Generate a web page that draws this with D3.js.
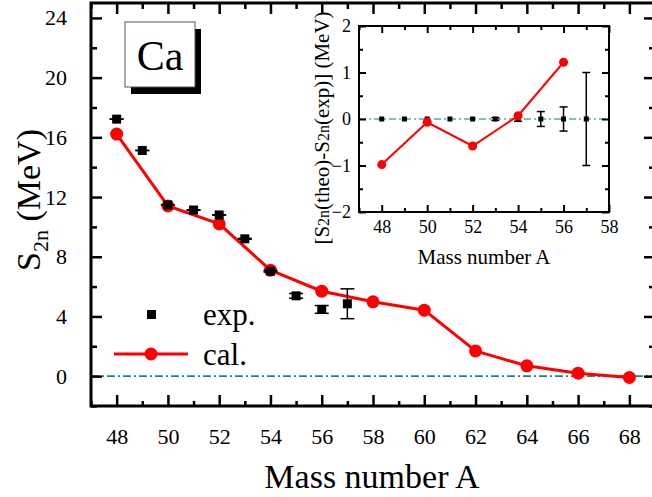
<!DOCTYPE html>
<html>
<head>
<meta charset="utf-8">
<script src="https://cdn.jsdelivr.net/npm/d3@7"></script>
<style>
body { margin: 0; background: #fff; }
svg text { font-family: "Liberation Serif", "Times New Roman", serif; fill: #000; }
</style>
</head>
<body>
<svg id="chart" width="652" height="497"></svg>
<script>
// data
var expA = [48, 49, 50, 51, 52, 53, 54, 55, 56, 57];
var expS2n = [17.22, 15.12, 11.47, 11.13, 10.80, 9.20, 7.03, 5.38, 4.47, 4.85];
var expErr = [0.01, 0.01, 0.01, 0.01, 0.01, 0.03, 0.05, 0.16, 0.26, 1.0];

var calA = [48, 50, 52, 54, 56, 58, 60, 62, 64, 66, 68];
var calS2n = [16.22, 11.40, 10.20, 7.10, 5.69, 4.98, 4.42, 1.69, 0.69, 0.20, -0.09];

// inset: theo - exp
var diffA = [48, 50, 52, 54, 56];
var diffVal = [-0.98, -0.07, -0.58, 0.07, 1.22];

var xTicks = [48, 50, 52, 54, 56, 58, 60, 62, 64, 66, 68];
var yTicks = [0, 4, 8, 12, 16, 20, 24];
var insetXTicks = [48, 50, 52, 54, 56, 58];
var insetYTicks = [-2, -1, 0, 1, 2];

var svg = d3.select("svg");

var x = d3.scaleLinear().domain([47, 69]).range([91, 655]);
var y = d3.scaleLinear().domain([-2, 25]).range([406, 3]);

var main = svg.append("g");

// zero line
main.append("line")
    .attr("x1", x(47)).attr("x2", x(69))
    .attr("y1", y(0)).attr("y2", y(0))
    .attr("stroke", "#1b8585")
    .attr("stroke-width", 1.6)
    .attr("stroke-dasharray", "8,3,2,3");

// ticks, all pointing inward
function ticks(g, axis) {
    g.call(axis);
    g.select(".domain").remove();
    g.selectAll(".tick line").attr("stroke", "#000").attr("stroke-width", 2.5);
}
var minorX = d3.range(47, 70, 1).filter(function(d) { return d % 2 == 1; });
var minorY = d3.range(-2, 25, 2).filter(function(d) { return d % 4 != 0; });

main.append("g").attr("transform", "translate(0," + y(-2) + ")")
    .call(ticks, d3.axisBottom(x).tickValues(xTicks).tickSize(-11).tickPadding(22).tickFormat(d3.format("d")));
main.append("g").attr("transform", "translate(0," + y(-2) + ")")
    .call(ticks, d3.axisBottom(x).tickValues(minorX).tickSize(-5).tickFormat(""));
main.append("g").attr("transform", "translate(0," + y(25) + ")")
    .call(ticks, d3.axisTop(x).tickValues(xTicks).tickSize(-11).tickFormat(""));
main.append("g").attr("transform", "translate(0," + y(25) + ")")
    .call(ticks, d3.axisTop(x).tickValues(minorX).tickSize(-6).tickFormat(""));
main.append("g").attr("transform", "translate(" + x(47) + ",0)")
    .call(ticks, d3.axisLeft(y).tickValues(yTicks).tickSize(-11).tickPadding(24).tickFormat(d3.format("d")));
main.append("g").attr("transform", "translate(" + x(47) + ",0)")
    .call(ticks, d3.axisLeft(y).tickValues(minorY).tickSize(-6).tickFormat(""));
main.append("g").attr("transform", "translate(" + x(69) + ",0)")
    .call(ticks, d3.axisRight(y).tickValues(yTicks).tickSize(-11).tickFormat(""));
main.append("g").attr("transform", "translate(" + x(69) + ",0)")
    .call(ticks, d3.axisRight(y).tickValues(minorY).tickSize(-6).tickFormat(""));

main.selectAll(".tick text")
    .style("font-family", "Liberation Serif")
    .style("font-size", "22px");

// frame
main.append("rect")
    .attr("x", x(47)).attr("y", y(25))
    .attr("width", x(69) - x(47)).attr("height", y(-2) - y(25))
    .attr("fill", "none").attr("stroke", "#000").attr("stroke-width", 3);

// calculated curve
var line = d3.line()
    .x(function(d, i) { return x(calA[i]); })
    .y(function(d) { return y(d); });

main.append("path")
    .datum(calS2n)
    .attr("d", line)
    .attr("fill", "none")
    .attr("stroke", "#ff0000")
    .attr("stroke-width", 3);

main.selectAll("circle.cal")
    .data(calS2n)
    .enter().append("circle")
    .attr("class", "cal")
    .attr("cx", function(d, i) { return x(calA[i]); })
    .attr("cy", function(d) { return y(d); })
    .attr("r", 6.5)
    .attr("fill", "#ff0000");

// experimental points with error bars
var eb = main.selectAll("g.exp")
    .data(expS2n)
    .enter().append("g")
    .attr("class", "exp");
eb.append("line")
    .attr("x1", function(d, i) { return x(expA[i]); })
    .attr("x2", function(d, i) { return x(expA[i]); })
    .attr("y1", function(d, i) { return y(d - expErr[i]); })
    .attr("y2", function(d, i) { return y(d + expErr[i]); })
    .attr("stroke", "#000").attr("stroke-width", 1.5);
[-1, 1].forEach(function(s) {
    eb.append("line")
        .attr("x1", function(d, i) { return x(expA[i]) - 7; })
        .attr("x2", function(d, i) { return x(expA[i]) + 7; })
        .attr("y1", function(d, i) { return y(d + s * expErr[i]); })
        .attr("y2", function(d, i) { return y(d + s * expErr[i]); })
        .attr("stroke", "#000").attr("stroke-width", 1.5);
});
eb.append("rect")
    .attr("x", function(d, i) { return x(expA[i]) - 4.5; })
    .attr("y", function(d) { return y(d) - 4.5; })
    .attr("width", 9).attr("height", 9)
    .attr("fill", "#000");

// legend
main.append("rect")
    .attr("x", 147).attr("y", 310).attr("width", 9).attr("height", 9)
    .attr("fill", "#000");
main.append("text").attr("x", 203).attr("y", 325)
    .style("font-size", "31px").text("exp.");
main.append("line")
    .attr("x1", 114).attr("x2", 188).attr("y1", 354).attr("y2", 354)
    .attr("stroke", "#ff0000").attr("stroke-width", 3);
main.append("circle").attr("cx", 151).attr("cy", 354).attr("r", 6.5)
    .attr("fill", "#ff0000");
main.append("text").attr("x", 203).attr("y", 365)
    .style("font-size", "31px").text("cal.");

// Ca label box with shadow
main.append("rect").attr("x", 131).attr("y", 29).attr("width", 70).attr("height", 65)
    .attr("fill", "#000");
main.append("rect").attr("x", 125).attr("y", 22).attr("width", 70).attr("height", 65)
    .attr("fill", "#fff").attr("stroke", "#555").attr("stroke-width", 1);
main.append("text").attr("x", 160).attr("y", 70)
    .attr("text-anchor", "middle")
    .style("font-size", "42px").text("Ca");

// axis titles
var xt = main.append("text")
    .attr("x", 372).attr("y", 488)
    .attr("text-anchor", "middle")
    .style("font-size", "34px")
    .text("Mass number A");

var yt = main.append("text")
    .attr("transform", "translate(40,200) rotate(-90)")
    .attr("text-anchor", "middle")
    .style("font-size", "34px");
yt.append("tspan").text("S");
yt.append("tspan").attr("dy", 8).style("font-size", "22px").text("2n");
yt.append("tspan").attr("dy", -8).text(" (MeV)");

// ---------- inset ----------
var xi = d3.scaleLinear().domain([47, 58]).range([359, 609]);
var yi = d3.scaleLinear().domain([-2, 2]).range([212, 26]);

var inset = svg.append("g");
inset.append("rect")
    .attr("x", xi(47)).attr("y", yi(2))
    .attr("width", xi(58) - xi(47)).attr("height", yi(-2) - yi(2))
    .attr("fill", "#fff");

inset.append("line")
    .attr("x1", xi(47)).attr("x2", xi(58))
    .attr("y1", yi(0)).attr("y2", yi(0))
    .attr("stroke", "#5aa9a9")
    .attr("stroke-width", 1.5)
    .attr("stroke-dasharray", "7,3,2,3");

var minorXi = d3.range(47, 58, 1).filter(function(d) { return d % 2 == 1; });
var minorYi = [-1.5, -0.5, 0.5, 1.5];
function iticks(g, axis) {
    g.call(axis);
    g.select(".domain").remove();
    g.selectAll(".tick line").attr("stroke", "#000").attr("stroke-width", 2);
}
inset.append("g").attr("transform", "translate(0," + yi(-2) + ")")
    .call(iticks, d3.axisBottom(xi).tickValues(insetXTicks).tickSize(-7).tickPadding(8).tickFormat(d3.format("d")));
inset.append("g").attr("transform", "translate(0," + yi(-2) + ")")
    .call(iticks, d3.axisBottom(xi).tickValues(minorXi).tickSize(-4).tickFormat(""));
inset.append("g").attr("transform", "translate(0," + yi(2) + ")")
    .call(iticks, d3.axisTop(xi).tickValues(insetXTicks).tickSize(-7).tickFormat(""));
inset.append("g").attr("transform", "translate(0," + yi(2) + ")")
    .call(iticks, d3.axisTop(xi).tickValues(minorXi).tickSize(-4).tickFormat(""));
inset.append("g").attr("transform", "translate(" + xi(47) + ",0)")
    .call(iticks, d3.axisLeft(yi).tickValues(insetYTicks).tickSize(-7).tickPadding(8).tickFormat(d3.format("d")));
inset.append("g").attr("transform", "translate(" + xi(47) + ",0)")
    .call(iticks, d3.axisLeft(yi).tickValues(minorYi).tickSize(-4).tickFormat(""));
inset.append("g").attr("transform", "translate(" + xi(58) + ",0)")
    .call(iticks, d3.axisRight(yi).tickValues(insetYTicks).tickSize(-7).tickFormat(""));
inset.append("g").attr("transform", "translate(" + xi(58) + ",0)")
    .call(iticks, d3.axisRight(yi).tickValues(minorYi).tickSize(-4).tickFormat(""));

inset.selectAll(".tick text")
    .style("font-family", "Liberation Serif")
    .style("font-size", "18px");

inset.append("rect")
    .attr("x", xi(47)).attr("y", yi(2))
    .attr("width", xi(58) - xi(47)).attr("height", yi(-2) - yi(2))
    .attr("fill", "none").attr("stroke", "#000").attr("stroke-width", 2);

// inset exp points at zero with their errors
var ieb = inset.selectAll("g.iexp")
    .data(expErr)
    .enter().append("g")
    .attr("class", "iexp");
ieb.append("line")
    .attr("x1", function(d, i) { return xi(expA[i]); })
    .attr("x2", function(d, i) { return xi(expA[i]); })
    .attr("y1", function(d) { return yi(-d); })
    .attr("y2", function(d) { return yi(d); })
    .attr("stroke", "#000").attr("stroke-width", 1.5);
[-1, 1].forEach(function(s) {
    ieb.append("line")
        .attr("x1", function(d, i) { return xi(expA[i]) - 4; })
        .attr("x2", function(d, i) { return xi(expA[i]) + 4; })
        .attr("y1", function(d) { return yi(s * d); })
        .attr("y2", function(d) { return yi(s * d); })
        .attr("stroke", "#000").attr("stroke-width", 1.5)
        .style("opacity", function(d) { return d > 0.02 ? 1 : 0; });
});
ieb.append("rect")
    .attr("x", function(d, i) { return xi(expA[i]) - 2.5; })
    .attr("y", yi(0) - 2.5)
    .attr("width", 5).attr("height", 5)
    .attr("fill", "#000");

var iline = d3.line()
    .x(function(d, i) { return xi(diffA[i]); })
    .y(function(d) { return yi(d); });
inset.append("path")
    .datum(diffVal)
    .attr("d", iline)
    .attr("fill", "none")
    .attr("stroke", "#ff0000")
    .attr("stroke-width", 2);
inset.selectAll("circle.idiff")
    .data(diffVal)
    .enter().append("circle")
    .attr("class", "idiff")
    .attr("cx", function(d, i) { return xi(diffA[i]); })
    .attr("cy", function(d) { return yi(d); })
    .attr("r", 4.5)
    .attr("fill", "#ff0000");

inset.append("text")
    .attr("x", 484).attr("y", 264)
    .attr("text-anchor", "middle")
    .style("font-size", "21px")
    .text("Mass number A");

var iyt = inset.append("text")
    .attr("transform", "translate(329,128) rotate(-90)")
    .attr("text-anchor", "middle")
    .style("font-size", "21px");
iyt.append("tspan").text("[S");
iyt.append("tspan").style("font-size", "16px").text("2n");
iyt.append("tspan").text("(theo)-S");
iyt.append("tspan").style("font-size", "16px").text("2n");
iyt.append("tspan").text("(exp)] (MeV)");
</script>
</body>
</html>
